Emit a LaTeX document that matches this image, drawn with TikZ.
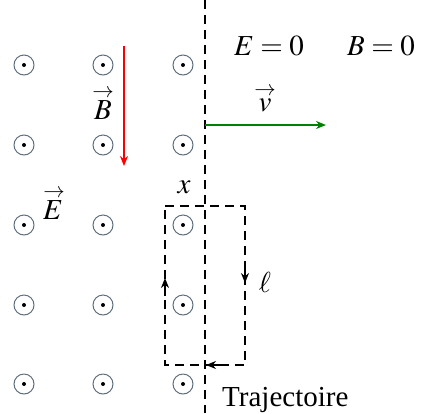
\documentclass[tikz,border=0pt]{standalone}
\usepackage{mathptmx}
\usepackage{fontspec}
\setmainfont{Liberation Serif}
\usetikzlibrary{arrows.meta}
\definecolor{ringc}{RGB}{95,110,125}
\newcommand{\vv}[1]{\mathord{\mathop{#1}\limits^{\raisebox{-0.35ex}{$\scriptstyle\rightarrow$}}}}
\begin{document}
\begin{tikzpicture}[x=1pt,y=-1pt,
  fld/.style={circle,draw=ringc,line width=1pt,minimum size=20pt,inner sep=0pt,
     path picture={\fill[black] (path picture bounding box.center) circle (2pt);}},
  dsh/.style={line width=1.6pt,dash pattern=on 9pt off 6pt},
  lbl/.style={font=\fontsize{29}{34}\selectfont,inner sep=0pt},
  tip/.style={-{Stealth[length=10pt,width=8pt]}}]
\useasboundingbox (0,0) rectangle (422,413);
% field symbols
\foreach \i/\x in {1/24,2/103,3/183}{
  \foreach \j/\y in {1/65,2/145,3/225,4/305,5/384}{
    \node[fld] (c\i\j) at (\x,\y) {};
  }
}
% frontier
\coordinate (ftop) at (205,0);
\coordinate (fbot) at (205,413);
\draw[dsh] (ftop) -- (fbot);
% B arrow
\coordinate (b1) at (124,46);
\coordinate (b2) at (124,166);
\draw[red,line width=1.3pt,tip] (b1) -- (b2);
\node[lbl] (Blab) at (103,103) {$\vv{B}$};
\node[lbl] (Elab) at (53,203) {$\vv{E}$};
% v arrow
\coordinate (v1) at (205,125);
\coordinate (v2) at (326,125);
\draw[green!50!black,line width=1.3pt,tip] (v1) -- (v2);
\node[lbl] (vlab) at (265,99) {$\vv{v}$};
\node[lbl] (E0) at (269,46) {$E=0$};
\node[lbl] (B0) at (381,46) {$B=0$};
\node[lbl] (xlab) at (184,187) {$x$};
% loop
\coordinate (r1) at (165,206);
\coordinate (r2) at (245,206);
\coordinate (r3) at (245,365);
\coordinate (r4) at (165,365);
\draw[dsh] (r1) -- (r2) -- (r3) -- (r4) -- cycle;
\coordinate (a1) at (245,265);
\coordinate (a2) at (245,283);
\draw[line width=1.6pt,tip] (a1) -- (a2);
\coordinate (a3) at (165,296);
\coordinate (a4) at (165,278);
\draw[line width=1.6pt,tip] (a3) -- (a4);
\coordinate (a5) at (222,365);
\coordinate (a6) at (206,365);
\draw[line width=1.6pt,tip] (a5) -- (a6);
\node[lbl] (ell) at (265,283) {$\ell$};
\node[lbl,anchor=west] (traj) at (222,400) {Trajectoire};
\end{tikzpicture}
\end{document}
